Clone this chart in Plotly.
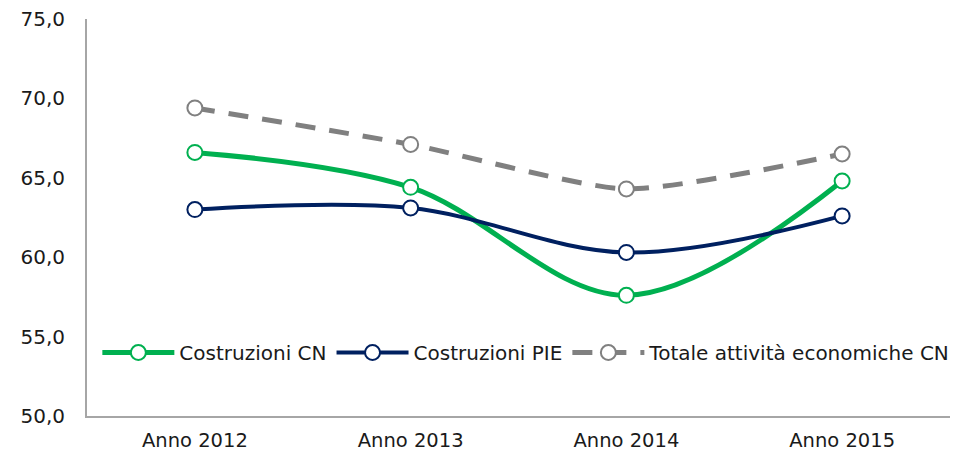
import plotly.graph_objects as go

years = ["Anno 2012", "Anno 2013", "Anno 2014", "Anno 2015"]
costr_cn = [66.6, 64.4, 57.6, 64.8]
costr_pie = [63.0, 63.1, 60.3, 62.6]
totale_cn = [69.4, 67.1, 64.3, 66.5]
y_ticks = [50, 55, 60, 65, 70, 75]

fig = go.Figure()
fig.add_trace(go.Scatter(
    x=years, y=costr_cn, name="Costruzioni CN", mode="lines+markers",
    line=dict(color="#00B050", width=5, shape="spline", smoothing=1.0),
    marker=dict(symbol="circle", size=15, color="white", line=dict(color="#00B050", width=2)),
))
fig.add_trace(go.Scatter(
    x=years, y=costr_pie, name="Costruzioni PIE", mode="lines+markers",
    line=dict(color="#002060", width=4, shape="spline", smoothing=1.0),
    marker=dict(symbol="circle", size=15, color="white", line=dict(color="#002060", width=2)),
))
fig.add_trace(go.Scatter(
    x=years, y=totale_cn, name="Totale attività economiche CN", mode="lines+markers",
    line=dict(color="#808080", width=5, shape="spline", smoothing=0.6, dash="20px,14px"),
    marker=dict(symbol="circle", size=15, color="white", line=dict(color="#808080", width=2)),
))

fig.update_layout(
    width=962, height=446,
    margin=dict(l=79, r=20, t=11, b=38),
    plot_bgcolor="white", paper_bgcolor="white",
    font=dict(family="DejaVu Sans", size=19, color="#1a1a1a"),
    separators=",.",
    showlegend=True,
    legend=dict(
        orientation="h", x=0.012, y=0.16, xanchor="left", yanchor="middle",
        font=dict(family="DejaVu Sans", size=20, color="#1a1a1a"),
        bgcolor="rgba(0,0,0,0)", itemwidth=72, tracegroupgap=0,
    ),
    xaxis=dict(
        range=[-0.5, 3.5], automargin=False,
        showline=True, linecolor="#A6A6A6", linewidth=2, showgrid=False,
        ticks="", tickfont=dict(size=19.5), zeroline=False, ticklabelstandoff=6,
        ticklabeloverflow="allow",
    ),
    yaxis=dict(
        range=[50, 75], tickvals=y_ticks, tickformat=".1f", automargin=False,
        showline=True, linecolor="#A6A6A6", linewidth=2, showgrid=False,
        ticks="", tickfont=dict(size=20), zeroline=False, ticklabelstandoff=16,
        ticklabeloverflow="allow",
    ),
)

fig.write_html("out.html")
